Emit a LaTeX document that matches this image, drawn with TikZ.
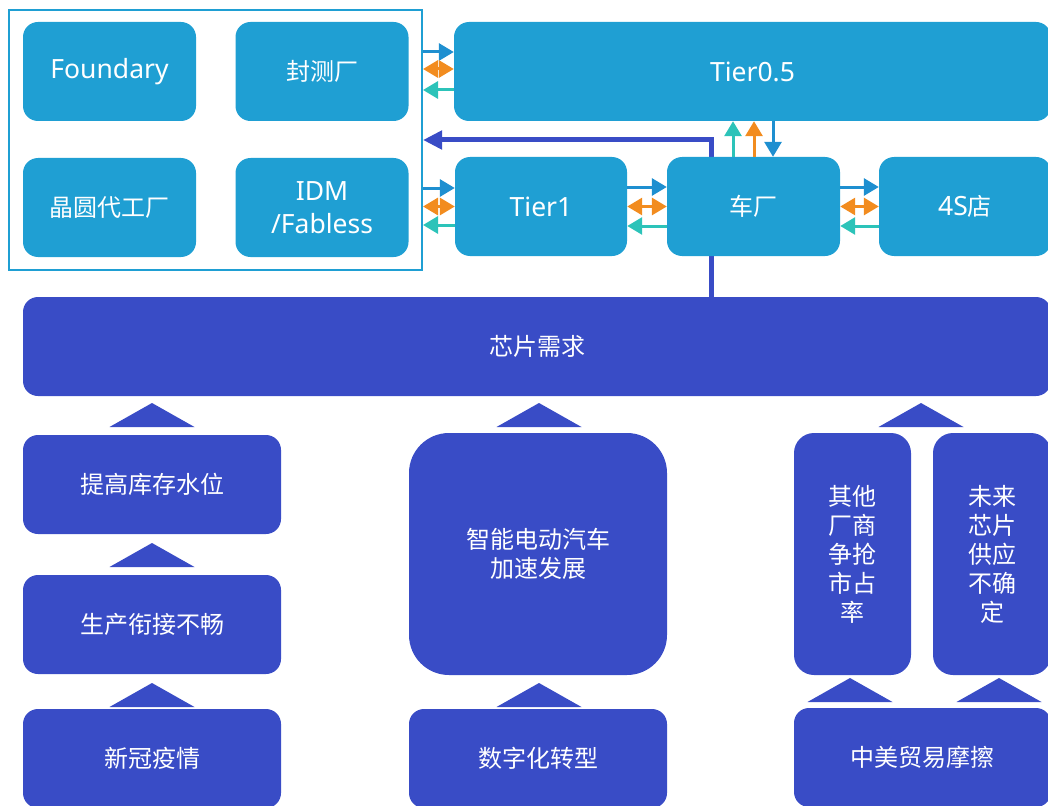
\documentclass[tikz,border=0pt]{standalone}
\usepackage{fontspec}
\setmainfont{Noto Sans CJK SC}
\newfontfamily\latinfont{Noto Sans}
\usetikzlibrary{arrows.meta,backgrounds}

\definecolor{chipblue}{HTML}{1F9FD3}
\definecolor{deepblue}{HTML}{394CC6}
\definecolor{flowblue}{HTML}{1E8FD0}
\definecolor{floworange}{HTML}{F28C1F}
\definecolor{flowteal}{HTML}{2CC3B9}

\begin{document}
\begin{tikzpicture}[x=1pt,y=-1pt,>={Triangle[length=15pt,width=17pt]},
  supply node/.style={rounded corners=15pt,fill=chipblue,text=white,inner sep=0pt,
    minimum width=173pt,minimum height=99pt,align=center,font=\fontsize{24}{29}\selectfont},
  latin node/.style={supply node,font=\latinfont\fontsize{26.5}{33}\selectfont},
  demand node/.style={supply node,fill=deepblue,minimum width=258pt},
  flow/.style={line width=3pt},
  lift/.style={fill=deepblue}]

 \useasboundingbox (0,0) rectangle (1048,805);
 \clip (0,0) rectangle (1048,805);

 % supply side
 \node[draw=chipblue,line width=2pt,minimum width=413pt,minimum height=260pt] (frame) at (215.5,140) {};
 \node[latin node] (foundry) at (109.5,71.5) {Foundary};
 \node[supply node] (osat) at (322,71.5) {封测厂};
 \node[supply node] (wafer) at (109.5,207.5) {晶圆代工厂};
 \node[latin node] (idm) at (322,207.5) {IDM\\/Fabless};

 \node[latin node,minimum width=597pt] (t05) at (752.5,71.5) {Tier0.5};
 \node[latin node,minimum width=172pt] (t1) at (541,206.5) {Tier1};
 \node[supply node] (oem) at (753.5,206.5) {车厂};
 \node[supply node,minimum width=172pt] (dealer) at (965,206.5) {{\latinfont\fontsize{26.5}{33}\selectfont 4S}店};

 % demand side
 \node[demand node,minimum width=1028pt] (need) at (537,346.5) {芯片需求};
 \node[demand node] (stock) at (152,484.5) {提高库存水位};
 \node[demand node] (chain) at (152,624.5) {生产衔接不畅};
 \node[demand node] (covid) at (152,758.5) {新冠疫情};
 \node[demand node,rounded corners=40pt,minimum height=242pt] (ev) at (538,554) {智能电动汽车\\加速发展};
 \node[demand node] (digital) at (538,758.5) {数字化转型};
 \node[demand node,rounded corners=20pt,minimum width=117pt,minimum height=242pt] (rival) at (852.5,554) {其他\\厂商\\争抢\\市占\\率};
 \node[demand node,rounded corners=20pt,minimum width=118pt,minimum height=242pt] (unsure) at (992,554) {未来\\芯片\\供应\\不确\\定};
 \node[demand node,minimum width=257pt] (trade) at (922.5,757.5) {中美贸易摩擦};

 % upward triangles
 \fill[lift] (109.5,427) -- (152,403) -- (194.5,427) -- cycle;
 \fill[lift] (109.5,567) -- (152,543) -- (194.5,567) -- cycle;
 \fill[lift] (109.5,707) -- (152,683) -- (194.5,707) -- cycle;
 \fill[lift] (496.5,427) -- (539,403) -- (581.5,427) -- cycle;
 \fill[lift] (496.5,707) -- (539,683) -- (581.5,707) -- cycle;
 \fill[lift] (878.5,427) -- (921,403) -- (963.5,427) -- cycle;
 \fill[lift] (807.5,702) -- (850,678) -- (892.5,702) -- cycle;
 \fill[lift] (956.5,702) -- (999,678) -- (1041.5,702) -- cycle;

 % demand feedback
 \begin{scope}[on background layer]
  \draw[deepblue,line width=5pt,-{Triangle[length=19pt,width=18pt]}]
    ([xshift=-42.5pt]oem.south |- need.north) |- (frame.east);
 \end{scope}

 % flows
 \draw[flow,flowblue,->] ([yshift=19.5pt]t05.west -| frame.east) -- ([yshift=19.5pt]t05.west);
 \draw[flow,floworange,<->] ([yshift=2.5pt]t05.west -| frame.east) -- ([yshift=2.5pt]t05.west);
 \draw[flow,flowteal,<-] ([yshift=-18.5pt]t05.west -| frame.east) -- ([yshift=-18.5pt]t05.west);

 \draw[flow,flowblue,->] ([yshift=18.5pt]t1.west -| frame.east) -- ([yshift=18.5pt]t1.west);
 \draw[flow,floworange,<->] ([yshift=0pt]t1.west -| frame.east) -- ([yshift=0pt]t1.west);
 \draw[flow,flowteal,<-] ([yshift=-18.5pt]t1.west -| frame.east) -- ([yshift=-18.5pt]t1.west);

 \draw[flow,flowblue,->] ([yshift=19.5pt]t1.east) -- ([yshift=19.5pt]oem.west);
 \draw[flow,floworange,<->] ([yshift=0pt]t1.east) -- ([yshift=0pt]oem.west);
 \draw[flow,flowteal,<-] ([yshift=-19.5pt]t1.east) -- ([yshift=-19.5pt]oem.west);

 \draw[flow,flowblue,->] ([yshift=19.5pt]oem.east) -- ([yshift=19.5pt]dealer.west);
 \draw[flow,floworange,<->] ([yshift=0pt]oem.east) -- ([yshift=0pt]dealer.west);
 \draw[flow,flowteal,<-] ([yshift=-19.5pt]oem.east) -- ([yshift=-19.5pt]dealer.west);

 \draw[flow,flowteal,->] ([xshift=-20.5pt]oem.north) -- ([xshift=-20.5pt]oem.north |- t05.south);
 \draw[flow,floworange,->] ([xshift=0.5pt]oem.north) -- ([xshift=0.5pt]oem.north |- t05.south);
 \draw[flow,flowblue,<-] ([xshift=19.5pt]oem.north) -- ([xshift=19.5pt]oem.north |- t05.south);

\end{tikzpicture}
\end{document}
